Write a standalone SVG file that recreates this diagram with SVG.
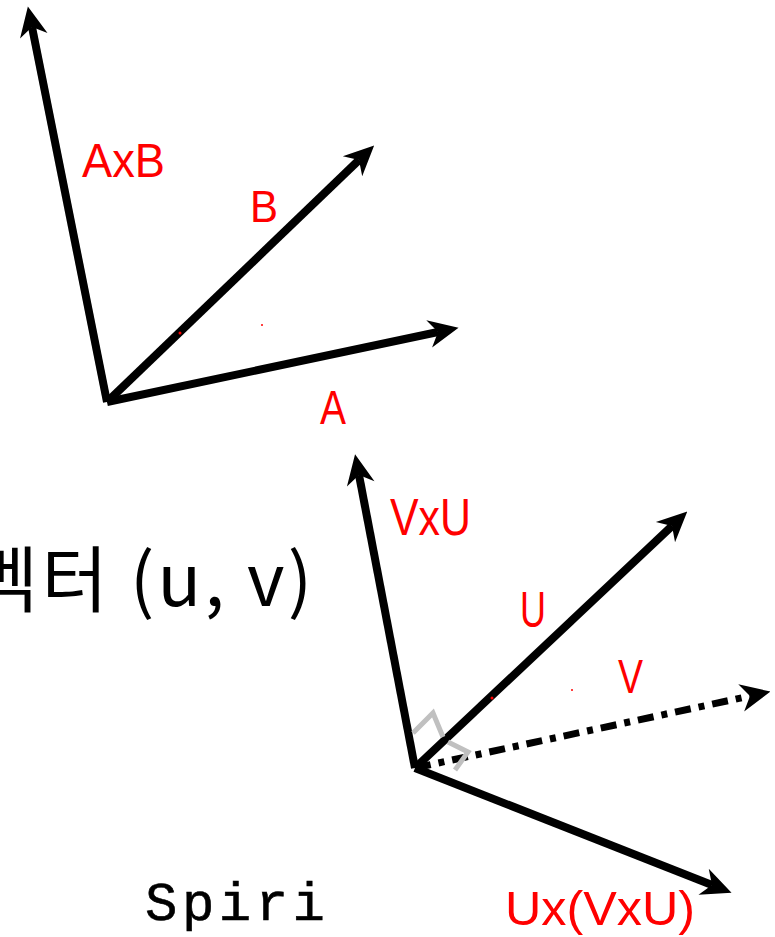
<svg xmlns="http://www.w3.org/2000/svg" width="775" height="937" viewBox="0 0 775 937">
<defs>
<marker id="ah" viewBox="0 0 32 30" refX="11" refY="15" markerWidth="32" markerHeight="30" markerUnits="userSpaceOnUse" orient="auto">
<path d="M32,15 L2,1 L11,15 L2,29 Z" fill="#000"/>
</marker>
<style>
.vec{stroke:#000;stroke-width:8;fill:none;stroke-linecap:butt;marker-end:url(#ah)}
.dash{stroke-dasharray:16 8 6 8;stroke-width:7}
.lbl{fill:#ff0000;font-family:"Liberation Sans","DejaVu Sans",sans-serif}
.mark{stroke:#c0c0c0;stroke-width:5;fill:none;stroke-linejoin:miter}
</style>
</defs>
<rect width="775" height="937" fill="#fff"/>
<g id="connectors">
<line class="vec" x1="107" y1="402" x2="32" y2="27"/>
<line class="vec" x1="107" y1="402" x2="359" y2="160"/>
<line class="vec" x1="107" y1="402" x2="438" y2="332"/>
<line class="vec" x1="415" y1="768" x2="359" y2="475"/>
<line class="vec" x1="415" y1="768" x2="672" y2="526"/>
<line class="vec dash" x1="415" y1="768" x2="750" y2="696"/>
<line class="vec" x1="415" y1="768" x2="712" y2="885"/>
</g>
<g id="right-angle-marks">
<path class="mark" d="M413,733 L433,713 L443,737"/>
<path class="mark" d="M448,742 L468,752 L455,770"/>
</g>
<g id="labels-top">
<text class="lbl" x="82" y="177" font-size="48" textLength="83" lengthAdjust="spacingAndGlyphs">AxB</text>
<text class="lbl" x="250" y="222" font-size="44" textLength="28" lengthAdjust="spacingAndGlyphs">B</text>
<text class="lbl" x="320" y="424" font-size="48" textLength="26" lengthAdjust="spacingAndGlyphs">A</text>
</g>
<g id="labels-bottom">
<text class="lbl" x="390" y="535" font-size="52" textLength="81" lengthAdjust="spacingAndGlyphs">VxU</text>
<text class="lbl" x="520" y="627" font-size="50" textLength="26" lengthAdjust="spacingAndGlyphs">U</text>
<text class="lbl" x="618" y="693" font-size="48" textLength="25" lengthAdjust="spacingAndGlyphs">V</text>
<text class="lbl" x="505" y="925" font-size="48" textLength="190" lengthAdjust="spacingAndGlyphs">Ux(VxU)</text>
</g>
<g id="dots" fill="#ff0000">
<circle cx="180" cy="333" r="1.5"/>
<circle cx="262" cy="325" r="1"/>
<circle cx="492" cy="698" r="1.5"/>
<circle cx="572" cy="690" r="1"/>
</g>
<g id="title">
<text x="-28" y="606" font-size="72" textLength="340" lengthAdjust="spacing" fill="#000" font-family="'Noto Sans CJK KR','Noto Sans',sans-serif">벡터 (u, v)</text>
</g>
<g id="signature">
<text x="145" y="920" font-size="54" textLength="180" lengthAdjust="spacing" fill="#000" stroke="#000" stroke-width="0.6" font-family="'Liberation Mono','Courier New',monospace">Spiri</text>
</g>
</svg>
